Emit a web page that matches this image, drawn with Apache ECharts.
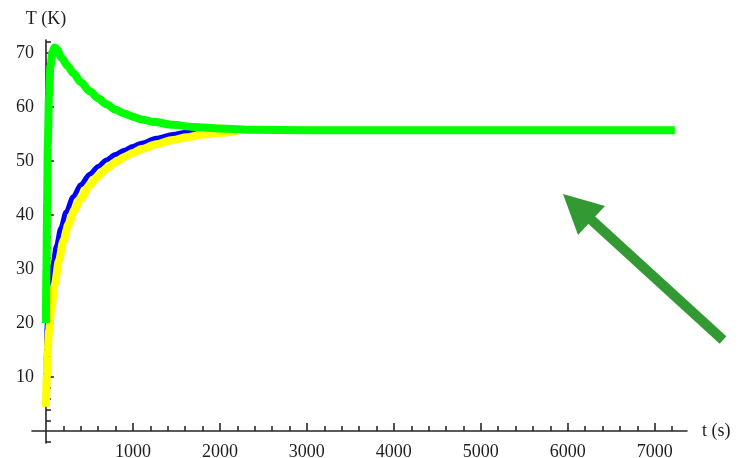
<!DOCTYPE html>
<html>
<head>
<meta charset="utf-8">
<title>T (K) vs t (s)</title>
<script src="https://cdn.jsdelivr.net/npm/echarts@6/dist/echarts.min.js"></script>
<style>
  html, body { margin: 0; padding: 0; background: #ffffff; }
  #chart { width: 745px; height: 458px; }
</style>
</head>
<body>
<div id="chart"></div>
<script>
// Temperature histories (time in s, temperature in K)
const tBlue = [0, 5, 12, 25, 45, 80, 120, 170, 230, 314, 400, 506, 600, 697, 800, 900, 1000, 1100, 1270, 1460, 1600, 1750];
const TBlue = [9.5, 14, 19, 23.5, 27, 30.8, 34.2, 37.5, 40.5, 43.4, 45.6, 47.6, 49.0, 50.2, 51.2, 52.0, 52.7, 53.3, 54.2, 54.9, 55.3, 55.6];

const tYellow = [0, 10, 20, 35, 60, 100, 150, 200, 260, 330, 400, 500, 600, 700, 800, 900, 1000, 1100, 1270, 1460, 1620, 1800, 2000, 2200];
const TYellow = [4.5, 10, 14.5, 18.5, 22.3, 27, 31.6, 35.2, 38.3, 41.0, 43.0, 45.4, 47.2, 48.6, 49.8, 50.7, 51.5, 52.2, 53.1, 53.9, 54.4, 54.9, 55.2, 55.5];

const tGreen = [0, 6, 13, 22, 35, 52, 75, 100, 130, 180, 250, 314, 400, 506, 600, 697, 800, 900, 1000, 1100, 1250, 1460, 1700, 2000, 2400, 3000, 7230];
const TGreen = [20, 30, 42, 53, 62, 67.5, 70.2, 71, 70.6, 69.1, 67.6, 66.3, 64.6, 62.9, 61.6, 60.5, 59.5, 58.8, 58.2, 57.7, 57.2, 56.7, 56.3, 56.0, 55.8, 55.7, 55.7];

// Axis ticks
const tMajorTicks = [1000, 2000, 3000, 4000, 5000, 6000, 7000];
const tMinorTicks = [200, 400, 600, 800, 1200, 1400, 1600, 1800, 2200, 2400, 2600, 2800,
  3200, 3400, 3600, 3800, 4200, 4400, 4600, 4800, 5200, 5400, 5600, 5800,
  6200, 6400, 6600, 6800, 7200];
const TMajorTicks = [10, 20, 30, 40, 50, 60, 70];
const TMinorTicks = [-2, 2, 4, 6, 8, 12, 14, 16, 18, 22, 24, 26, 28, 32, 34, 36, 38,
  42, 44, 46, 48, 52, 54, 56, 58, 62, 64, 66, 68, 72];

const pairs = (xs, ys) => xs.map((x, i) => [x, ys[i]]);
const plain = (v) => String(Math.round(v));

const axisColor = '#262626';
const labelFont = { fontFamily: 'Liberation Serif', fontSize: 18, color: '#1e1e1e' };

const chart = echarts.init(document.getElementById('chart'), null, { renderer: 'canvas' });

const lineSeries = (data, color, width) => ({
  type: 'line',
  data: data,
  xAxisIndex: 0,
  yAxisIndex: 0,
  showSymbol: false,
  smooth: 0.3,
  smoothMonotone: 'x',
  lineStyle: { color: color, width: width, cap: 'butt', join: 'round' },
  silent: true,
  animation: false
});

chart.setOption({
  animation: false,
  backgroundColor: '#ffffff',
  grid: { left: 32, right: 58, top: 40, bottom: 15, containLabel: false, outerBoundsMode: 'none' },
  xAxis: [
    {
      type: 'value', min: -160, max: 7370, position: 'bottom',
      name: 't (s)', nameLocation: 'end', nameGap: 15,
      nameTextStyle: Object.assign({}, labelFont),
      axisLine: { show: true, onZero: true, onZeroAxisIndex: 0, lineStyle: { color: axisColor, width: 1.6 } },
      axisTick: { show: true, inside: true, length: 8, customValues: tMajorTicks, lineStyle: { color: axisColor, width: 1.6 } },
      axisLabel: Object.assign({ show: true, margin: 0, customValues: tMajorTicks, formatter: plain }, labelFont),
      splitLine: { show: false }
    },
    {
      type: 'value', min: -160, max: 7370, position: 'bottom',
      axisLine: { show: false, onZero: true, onZeroAxisIndex: 0 },
      axisTick: { show: true, inside: true, length: 5, customValues: tMinorTicks, lineStyle: { color: axisColor, width: 1.6 } },
      axisLabel: { show: false },
      splitLine: { show: false }
    }
  ],
  yAxis: [
    {
      type: 'value', min: -2.2, max: 72.4, position: 'left',
      name: 'T (K)', nameLocation: 'end', nameGap: 12,
      nameTextStyle: Object.assign({}, labelFont, { align: 'center' }),
      axisLine: { show: true, onZero: true, onZeroAxisIndex: 0, lineStyle: { color: axisColor, width: 1.6 } },
      axisTick: { show: true, inside: true, length: 8, customValues: TMajorTicks, lineStyle: { color: axisColor, width: 1.6 } },
      axisLabel: Object.assign({ show: true, margin: -2, customValues: TMajorTicks, formatter: plain }, labelFont),
      splitLine: { show: false }
    },
    {
      type: 'value', min: -2.2, max: 72.4, position: 'left',
      axisLine: { show: false, onZero: true, onZeroAxisIndex: 0 },
      axisTick: { show: true, inside: true, length: 5, customValues: TMinorTicks, lineStyle: { color: axisColor, width: 1.6 } },
      axisLabel: { show: false },
      splitLine: { show: false }
    }
  ],
  series: [
    lineSeries(pairs(tBlue, TBlue), '#0000ff', 5),
    lineSeries(pairs(tYellow, TYellow), '#ffff00', 8),
    lineSeries(pairs(tGreen, TGreen), '#00ff00', 8)
  ],
  graphic: [
    {
      type: 'line', silent: true,
      shape: { x1: 723, y1: 340, x2: 585, y2: 214 },
      style: { stroke: '#339933', lineWidth: 10, lineCap: 'butt' }
    },
    {
      type: 'polygon', silent: true,
      shape: { points: [[563, 194], [605, 206], [578, 235]] },
      style: { fill: '#339933' }
    }
  ]
});
</script>
</body>
</html>
